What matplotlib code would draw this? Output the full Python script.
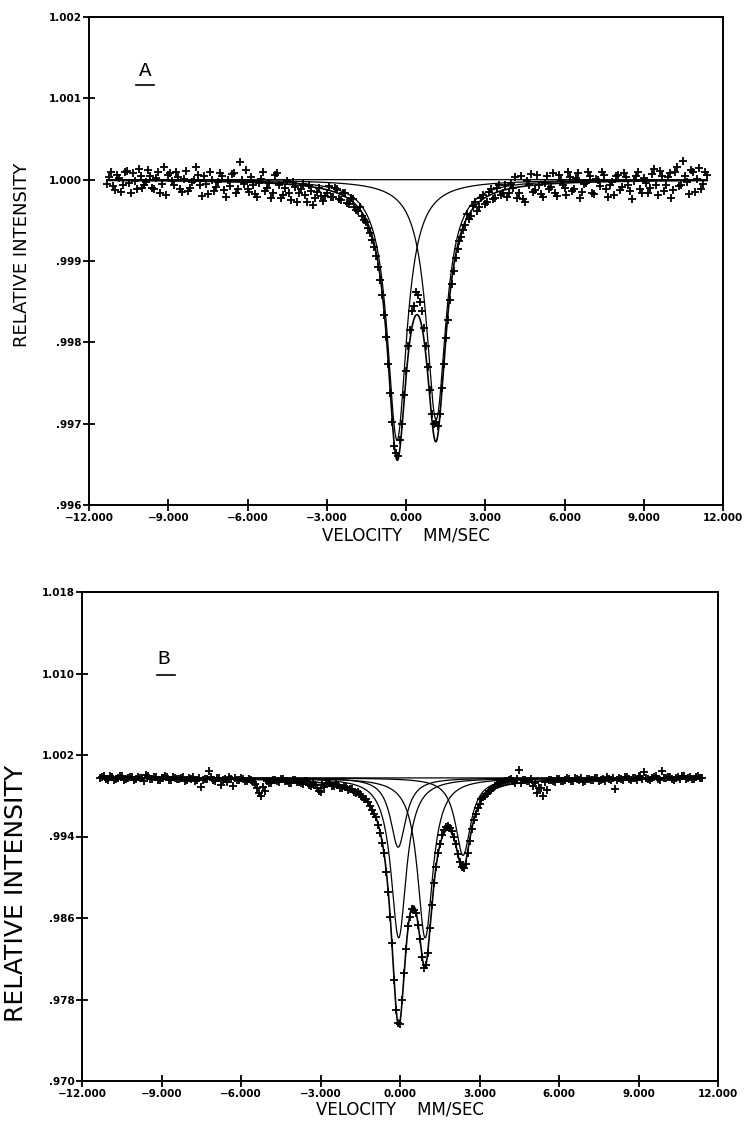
import numpy as np
import matplotlib.pyplot as plt
from matplotlib.lines import Line2D

# velocity channels (mm/s); the two halves of the folded spectrum are offset by half a channel
velocity = np.round(np.arange(-11.25, 11.41, 0.15), 3)
velocity2 = np.round(velocity - 0.075, 3)

# spectrum A - measured points, first half
intensity_a = [
    1.00003, 0.99992, 1.00006, 0.99985, 1.00010, 0.99996, 1.00008, 0.99988, 1.00004, 0.99993,
    1.00012, 0.99990, 1.00002, 0.99984, 1.00015, 1.00006, 0.99998, 1.00010, 0.99989, 1.00001,
    0.99986, 0.99997, 1.00016, 0.99993, 1.00004, 0.99982, 1.00000, 0.99991, 1.00008, 0.99987,
    0.99999, 1.00007, 0.99984, 1.00022, 0.99995, 0.99988, 1.00003, 0.99982, 0.99996, 1.00009,
    0.99990, 0.99978, 1.00006, 0.99993, 0.99981, 0.99998, 0.99975, 0.99991, 0.99983, 0.99995,
    0.99972, 0.99986, 0.99978, 0.99990, 0.99974,
    0.99984, 0.99979, 0.99990, 0.99976, 0.99984, 0.99971, 0.99978, 0.99966, 0.99961, 0.99955,
    0.99948, 0.99935, 0.99917, 0.99893, 0.99858, 0.99806, 0.99738, 0.99672, 0.99660, 0.99700,
    0.99765, 0.99815, 0.99845, 0.99858, 0.99838, 0.99795, 0.99742, 0.99700, 0.99697, 0.99744,
    0.99805, 0.99852, 0.99888, 0.99915, 0.99930, 0.99944, 0.99952, 0.99968, 0.99962, 0.99978,
    0.99970, 0.99985, 0.99976, 0.99990, 0.99981, 0.99994, 0.99983,
    0.99990, 0.99978, 1.00004, 0.99972, 0.99993, 0.99985, 1.00006, 0.99982, 0.99996, 0.99988,
    1.00008, 0.99980, 0.99999, 0.99990, 1.00010, 0.99986, 1.00002, 0.99978, 0.99995, 1.00009,
    0.99984, 1.00001, 0.99992, 1.00006, 0.99979, 0.99997, 1.00004, 0.99987, 1.00008, 0.99993,
    0.99976, 1.00005, 0.99989, 1.00002, 0.99983, 1.00007, 0.99994, 1.00011, 0.99986, 1.00003,
    0.99978, 1.00009, 0.99992, 1.00023, 0.99997, 1.00012, 0.99985, 1.00014, 0.99995, 1.00006,
]

# spectrum A - second half
intensity_a2 = [
    0.99995, 1.00009, 0.99987, 1.00002, 0.99994, 1.00011, 0.99983, 0.99998, 1.00013, 0.99990,
    0.99997, 1.00005, 0.99988, 1.00009, 0.99995, 0.99981, 1.00008, 0.99993, 1.00003, 0.99985,
    1.00011, 0.99990, 0.99999, 1.00006, 0.99980, 0.99995, 1.00009, 0.99986, 0.99997, 1.00004,
    0.99979, 0.99992, 1.00008, 0.99988, 0.99999, 1.00012, 0.99985, 0.99994, 0.99979, 1.00001,
    0.99986, 0.99996, 0.99983, 1.00008, 0.99977, 0.99990, 0.99984, 0.99997, 0.99973, 0.99988,
    0.99981, 0.99994, 0.99969, 0.99985, 0.99980,
    0.99980, 0.99992, 0.99979, 0.99988, 0.99975, 0.99983, 0.99970, 0.99976, 0.99963, 0.99966,
    0.99950, 0.99941, 0.99926, 0.99906, 0.99877, 0.99833, 0.99773, 0.99702, 0.99664, 0.99680,
    0.99735, 0.99795, 0.99838, 0.99862, 0.99850, 0.99818, 0.99770, 0.99712, 0.99702, 0.99712,
    0.99773, 0.99828, 0.99872, 0.99904, 0.99924, 0.99938, 0.99958, 0.99955, 0.99972, 0.99966,
    0.99981, 0.99972, 0.99988, 0.99978, 0.99993, 0.99984, 0.99979,
    0.99995, 1.00003, 0.99983, 0.99976, 0.99998, 1.00007, 0.99987, 0.99993, 0.99979, 1.00004,
    0.99991, 0.99983, 1.00006, 0.99994, 0.99981, 1.00003, 0.99989, 1.00008, 0.99985, 0.99996,
    1.00005, 0.99982, 0.99999, 1.00010, 0.99988, 0.99994, 0.99981, 1.00006, 0.99991, 1.00003,
    0.99986, 0.99998, 1.00009, 0.99984, 0.99996, 0.99990, 1.00013, 0.99981, 1.00005, 0.99993,
    1.00008, 0.99987, 1.00015, 0.99994, 1.00004, 0.99982, 1.00010, 1.00001, 0.99988, 1.00009,
]

# spectrum B - measured points, first half
intensity_b = [
    0.99985, 0.99962, 0.99990, 0.99958, 0.99978, 0.99995, 0.99965, 0.99982, 0.99955, 0.99988,
    0.99970, 1.00002, 0.99960, 0.99980, 0.99950, 0.99975, 0.99992, 0.99957, 0.99983, 0.99962,
    0.99978, 0.99945, 0.99970, 0.99988, 0.99952, 0.99890, 0.99968, 1.00040, 0.99958, 0.99975,
    0.99905, 0.99962, 0.99980, 0.99900, 0.99955, 0.99972, 0.99948, 0.99965, 0.99935, 0.99880,
    0.99800, 0.99850, 0.99930, 0.99958, 0.99940, 0.99962, 0.99945, 0.99930, 0.99955, 0.99938,
    0.99925, 0.99948, 0.99905, 0.99915, 0.99880,
    0.99835, 0.99885, 0.99930, 0.99898, 0.99915, 0.99880, 0.99895, 0.99860, 0.99868, 0.99825,
    0.99820, 0.99770, 0.99742, 0.99660, 0.99590, 0.99430, 0.99240, 0.98860, 0.98350, 0.97700,
    0.97560, 0.98060, 0.98520, 0.98690, 0.98650, 0.98390, 0.98110, 0.98260, 0.98730, 0.99100,
    0.99330, 0.99460, 0.99500, 0.99450, 0.99330, 0.99150, 0.99090, 0.99240, 0.99470, 0.99625,
    0.99720, 0.99790, 0.99815, 0.99860, 0.99900, 0.99925, 0.99935,
    0.99945, 0.99960, 0.99930, 1.00050, 0.99955, 0.99940, 0.99965, 0.99925, 0.99880, 0.99800,
    0.99860, 0.99950, 0.99935, 0.99962, 0.99948, 0.99970, 0.99945, 0.99975, 0.99955, 0.99935,
    0.99968, 0.99950, 0.99978, 0.99940, 0.99965, 0.99985, 0.99955, 0.99870, 0.99972, 0.99958,
    0.99980, 0.99950, 0.99975, 0.99992, 0.99960, 0.99978, 0.99955, 0.99985, 0.99965, 1.00045,
    0.99970, 0.99988, 0.99958, 0.99980, 0.99995, 0.99965, 0.99985, 0.99960, 0.99990, 0.99975,
]

# spectrum B - second half
intensity_b2 = [
    0.99970, 0.99995, 0.99958, 0.99980, 0.99965, 0.99990, 0.99952, 0.99975, 0.99985, 0.99960,
    0.99978, 0.99948, 0.99992, 0.99965, 0.99980, 0.99955, 0.99970, 0.99988, 0.99950, 0.99972,
    0.99962, 0.99985, 0.99955, 0.99968, 0.99940, 0.99975, 0.99958, 0.99965, 0.99980, 0.99948,
    0.99970, 0.99955, 0.99935, 0.99965, 0.99975, 0.99950, 0.99962, 0.99940, 0.99958, 0.99920,
    0.99830, 0.99890, 0.99945, 0.99930, 0.99955, 0.99938, 0.99960, 0.99945, 0.99925, 0.99950,
    0.99935, 0.99920, 0.99940, 0.99895, 0.99910,
    0.99850, 0.99905, 0.99915, 0.99925, 0.99895, 0.99910, 0.99880, 0.99885, 0.99870, 0.99840,
    0.99835, 0.99790, 0.99765, 0.99700, 0.99620, 0.99510, 0.99340, 0.99050, 0.98610, 0.97990,
    0.97570, 0.97800, 0.98300, 0.98610, 0.98680, 0.98530, 0.98220, 0.98140, 0.98500, 0.98940,
    0.99240, 0.99410, 0.99490, 0.99480, 0.99400, 0.99230, 0.99100, 0.99130, 0.99360, 0.99560,
    0.99680, 0.99765, 0.99800, 0.99850, 0.99880, 0.99910, 0.99930,
    0.99940, 0.99955, 0.99945, 0.99960, 0.99930, 0.99950, 0.99940, 0.99900, 0.99830, 0.99880,
    0.99935, 0.99955, 0.99945, 0.99965, 0.99940, 0.99958, 0.99968, 0.99948, 0.99960, 0.99975,
    0.99945, 0.99962, 0.99950, 0.99970, 0.99958, 0.99945, 0.99965, 0.99975, 0.99950, 0.99968,
    0.99985, 0.99960, 0.99972, 0.99955, 0.99980, 1.00030, 0.99962, 0.99975, 0.99990, 0.99958,
    0.99972, 0.99985, 0.99960, 0.99978, 0.99968, 0.99990, 0.99975, 0.99965, 0.99982, 0.99970,
]

# fitted lorentzian lines (center, depth, half width)
base_a = 1.0
centers_a = [-0.34, 1.14]
depths_a = [0.0032, 0.00295]
widths_a = [0.45, 0.45]

base_b = 0.99975
centers_b = [-0.07, -0.05, 0.95, 2.38]
depths_b = [0.0068, 0.0157, 0.0157, 0.0076]
widths_b = [0.35, 0.35, 0.35, 0.35]

xticks = [-12, -9, -6, -3, 0, 3, 6, 9, 12]
xticklabels = ['\u221212.000', '\u22129.000', '\u22126.000', '\u22123.000', '0.000',
               '3.000', '6.000', '9.000', '12.000']
yticks_a = [0.996, 0.997, 0.998, 0.999, 1.000, 1.001, 1.002]
yticklabels_a = ['.996', '.997', '.998', '.999', '1.000', '1.001', '1.002']
yticks_b = [0.970, 0.978, 0.986, 0.994, 1.002, 1.010, 1.018]
yticklabels_b = ['.970', '.978', '.986', '.994', '1.002', '1.010', '1.018']


def lorentz(v, c, d, g):
    return d * g**2 / (g**2 + (v - c)**2)


def panel(ax, data1, data2, base, centers, depths, widths, yticks, yticklabels):
    vf = np.linspace(velocity2.min(), velocity.max(), 1500)
    comps = [lorentz(vf, c, d, g) for c, d, g in zip(centers, depths, widths)]
    ax.plot(velocity, data1, 'k+', ms=5.5, mew=1.3)
    ax.plot(velocity2, data2, 'k+', ms=5.5, mew=1.3)
    ax.plot(vf, np.full_like(vf, base), 'k-', lw=0.9)
    for c in comps:
        ax.plot(vf, base - c, 'k-', lw=0.9)
    ax.plot(vf, base - np.sum(comps, axis=0), 'k-', lw=1.2)
    ax.set_xlim(-12, 12)
    ax.set_ylim(yticks[0], yticks[-1])
    ax.set_xticks(xticks)
    ax.set_xticklabels(xticklabels, fontsize=7.5, fontweight='bold')
    ax.set_yticks(yticks)
    ax.set_yticklabels(yticklabels, fontsize=7.5, fontweight='bold')
    ax.tick_params(direction='inout', length=8, width=1.3, pad=1.5)
    for s in ax.spines.values():
        s.set_linewidth(1.4)


fig = plt.figure(figsize=(7.46, 11.25), dpi=100)
ax_a = fig.add_axes([89/746, 1 - 505/1125, (723-89)/746, (505-17)/1125])
ax_b = fig.add_axes([82/746, 1 - 1081/1125, (718-82)/746, (1081-592)/1125])

panel(ax_a, intensity_a, intensity_a2, base_a, centers_a, depths_a, widths_a, yticks_a, yticklabels_a)
panel(ax_b, intensity_b, intensity_b2, base_b, centers_b, depths_b, widths_b, yticks_b, yticklabels_b)

# axis titles
fig.text(406/746, 1 - 536/1125, 'VELOCITY    MM/SEC', ha='center', va='center', fontsize=12)
fig.text(400/746, 1 - 1109/1125, 'VELOCITY    MM/SEC', ha='center', va='center', fontsize=12)
fig.text(22/746, 1 - 255/1125, 'RELATIVE INTENSITY', rotation=90, ha='center', va='center', fontsize=13)
fig.text(16/746, 1 - 893/1125, 'RELATIVE INTENSITY', rotation=90, ha='center', va='center', fontsize=18)

# panel letters with underline
fig.text(145/746, 1 - 70/1125, 'A', ha='center', va='center', fontsize=15, family='Liberation Mono')
fig.add_artist(Line2D([136/746, 154/746], [1 - 85/1125, 1 - 85/1125], color='k', lw=1.2))
fig.text(164/746, 1 - 658/1125, 'B', ha='center', va='center', fontsize=15, family='Liberation Mono')
fig.add_artist(Line2D([157/746, 175/746], [1 - 675/1125, 1 - 675/1125], color='k', lw=1.2))

fig.savefig('out.png', dpi=100)
